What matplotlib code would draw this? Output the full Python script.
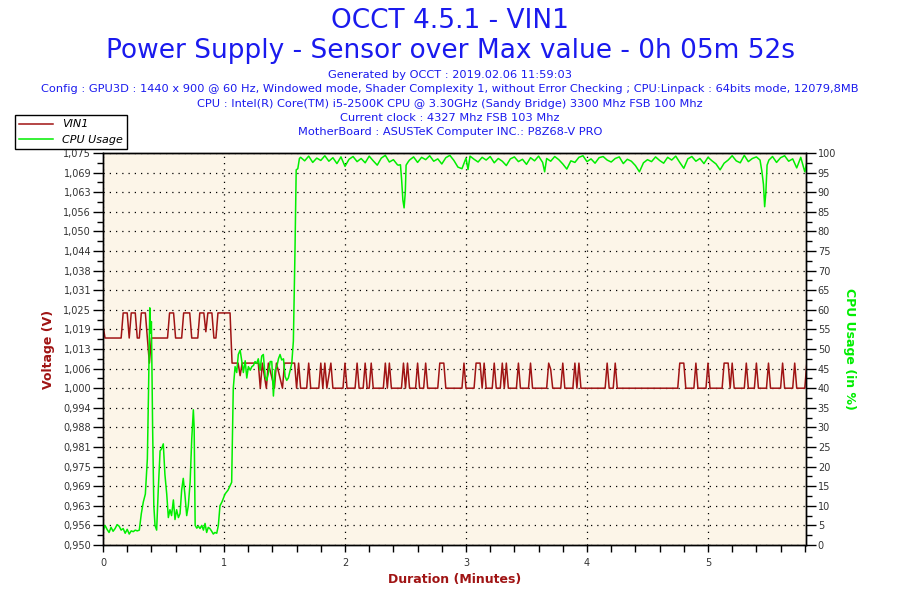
import matplotlib
matplotlib.use("Agg")
import matplotlib.pyplot as plt
import numpy as np
from matplotlib.ticker import MultipleLocator

# VIN1 voltage, breakpoints (time in seconds)
vin_t = [0, 1, 9, 10, 12, 13, 14, 16, 17, 18, 19, 21, 22, 23, 24, 32, 33, 35, 36,
         39, 40, 43, 44, 47, 48, 50, 51, 52, 54, 55, 56, 57, 63, 64, 67, 68, 69,
         77, 78, 79, 81, 82, 85, 86, 89, 90, 95, 96, 97, 98, 101, 102, 103, 107,
         108, 109, 110, 111, 113, 114, 119, 120, 121, 125, 126, 127, 129, 130, 131,
         132, 133, 134, 139, 140, 141, 142, 143, 148, 149, 150, 151, 152, 155, 156,
         157, 159, 160, 161, 166, 167, 169, 170, 178, 179, 180, 184, 185, 187, 188,
         189, 190, 193, 194, 195, 197, 198, 199, 200, 201, 205, 206, 207, 211, 212,
         213, 220, 221, 222, 223, 227, 228, 229, 233, 234, 235, 236, 237, 249, 250,
         251, 253, 254, 255, 285, 286, 288, 289, 293, 294, 295, 299, 300, 301, 307,
         308, 310, 311, 312, 313, 318, 319, 320, 323, 324, 325, 329, 330, 331, 336,
         337, 338, 342, 343, 344, 348, 349]
vin_v = [1.020, 1.016, 1.016, 1.024, 1.024, 1.016, 1.024, 1.024, 1.016, 1.016, 1.024,
         1.024, 1.016, 1.008, 1.016, 1.016, 1.024, 1.024, 1.016, 1.016, 1.024, 1.024,
         1.016, 1.016, 1.024, 1.024, 1.018, 1.024, 1.024, 1.016, 1.016, 1.024, 1.024,
         1.008, 1.008, 1.004, 1.008, 1.008, 1.000, 1.008, 1.000, 1.008, 1.000, 1.008,
         1.000, 1.008, 1.008, 1.000, 1.008, 1.000, 1.000, 1.008, 1.000, 1.000, 1.008,
         1.000, 1.008, 1.000, 1.008, 1.000, 1.000, 1.008, 1.000, 1.000, 1.008, 1.000,
         1.000, 1.008, 1.000, 1.000, 1.008, 1.000, 1.000, 1.008, 1.000, 1.008, 1.000,
         1.000, 1.008, 1.000, 1.008, 1.000, 1.000, 1.008, 1.000, 1.000, 1.008, 1.000,
         1.000, 1.008, 1.008, 1.000, 1.000, 1.008, 1.000, 1.000, 1.008, 1.008, 1.000,
         1.008, 1.000, 1.000, 1.008, 1.000, 1.000, 1.008, 1.000, 1.008, 1.000, 1.000,
         1.008, 1.000, 1.000, 1.008, 1.000, 1.000, 1.008, 1.006, 1.000, 1.000, 1.008,
         1.000, 1.000, 1.008, 1.000, 1.008, 1.000, 1.000, 1.008, 1.000, 1.000, 1.008,
         1.000, 1.000, 1.008, 1.008, 1.000, 1.000, 1.008, 1.000, 1.000, 1.008, 1.000,
         1.000, 1.008, 1.008, 1.000, 1.008, 1.000, 1.000, 1.008, 1.000, 1.000, 1.008,
         1.000, 1.000, 1.008, 1.000, 1.000, 1.008, 1.000, 1.000, 1.008, 1.000, 1.000,
         1.008]

# CPU usage (%), breakpoints (time in seconds)
cpu_t = [0, 1, 2, 3, 4, 5, 6, 7, 8, 9, 10, 11, 12, 13, 14, 15, 16, 17, 18, 19, 20,
         21, 22, 22.6, 23.2, 23.6, 24, 24.6, 25.2, 25.8, 26.6, 27.4, 28.3, 29, 29.9,
         30.7, 31.6, 32.4, 33.2, 34, 34.9, 35.7, 36.5, 37.4, 38.2, 39, 39.8, 40.6,
         41.5, 42.3, 43.2, 44, 44.8, 45.2, 45.7, 46.5, 47.3, 48.1, 49, 49.8, 50.6,
         51.4, 52.2, 53, 53.9, 54.7, 55.5, 56.4, 57.2, 58, 59, 60.5, 62, 63.8, 64.6,
         65.5, 66.3, 67.1, 68, 68.8, 69.6, 70.5, 71.3, 72.1, 73, 73.8, 74.6, 75.4,
         76.2, 77, 77.9, 78.7, 79.5, 80.4, 81.2, 82, 82.9, 83.7, 84.5, 85.3, 86.2,
         87, 87.8, 88.6, 89.5, 90.3, 91.1, 91.9, 92.8, 93.6, 94.4, 95.2, 95.8, 96.6,
         97.4,
         98, 100, 102, 104, 106, 108, 110, 112, 114, 116, 118, 120, 122, 124, 126,
         128, 130, 132, 134, 136, 138, 140, 142, 144, 146,
         146.5, 147.5, 148.1, 148.7, 149.3, 149.9, 150.3, 151.4,
         152, 154, 156, 158, 160, 162, 164, 166, 168, 170, 172, 174, 176, 178, 180,
         181,
         182, 184, 186, 188, 190, 192, 194, 196, 198, 200, 202, 204, 206, 208, 210,
         212, 214, 216, 218,
         219,
         220, 222, 224, 226, 228, 230,
         232, 234, 236, 238, 240, 242, 244, 246, 248, 250, 252, 254, 256, 258, 260,
         262, 264,
         266,
         268, 270, 272, 274, 276, 278, 280, 282, 284, 286,
         288,
         290, 292, 294, 296, 298, 300, 302, 304,
         306,
         308, 310, 312, 314, 316, 318, 320, 322, 324,
         325.8, 326.7, 327.5, 328.1, 328.7, 329.3, 330.2,
         332, 334, 336, 338, 340, 342, 344, 346, 348, 349]
cpu_v = [3.5, 5.0, 4.0, 3.2, 4.5, 3.5, 4.2, 5.2, 4.8, 3.8, 4.2, 3.0, 4.0, 2.8, 3.6,
         3.4, 3.8, 3.6, 3.8, 8.0, 11.0, 13.0, 22.0, 40.0, 60.5, 54.0, 57.0, 30.0,
         10.0, 5.0, 3.8, 14.0, 24.0, 24.5, 25.8, 18.0, 13.0, 7.0, 9.0, 7.5, 11.5,
         6.5, 9.0, 7.0, 8.0, 14.0, 17.0, 13.0, 7.5, 10.0, 16.0, 27.0, 34.5, 30.0,
         5.0, 4.3, 4.8, 4.2, 5.0, 3.8, 5.5, 3.2, 4.5, 4.2, 3.5, 2.8, 3.2, 3.0, 5.0,
         10.0, 11.0, 13.0, 14.0, 16.0, 40.0, 45.5, 44.0, 48.6, 49.7, 47.0, 44.0,
         47.0, 42.6, 45.5, 44.6, 45.5, 45.8, 46.8, 46.3, 47.5, 44.6, 48.2, 48.6,
         43.0, 42.0, 43.8, 46.8, 46.8, 38.0, 44.6, 45.5, 47.5, 48.6, 47.2, 47.5,
         43.0, 42.0, 42.6, 44.6, 46.3, 52.0, 75.0, 95.7, 96.0, 98.6,
         98.9, 98.0, 99.2, 97.6, 98.7, 98.1, 99.3, 97.9, 98.8, 97.3, 99.0, 96.6,
         98.4, 99.1, 97.8, 98.6, 97.5, 99.2, 98.0, 96.9, 98.7, 99.4, 97.7, 98.3,
         97.0,
         96.9, 97.0, 93.0, 88.0, 86.0, 90.0, 96.9, 97.8,
         98.2, 99.0, 97.6, 98.9, 98.3, 99.3, 97.9, 98.5, 97.2, 98.8, 99.4, 98.1,
         96.4, 96.0, 98.7,
         95.8,
         99.2, 98.4, 97.7, 98.9, 98.2, 99.1, 97.5, 98.6, 97.9, 96.8, 98.5, 99.0,
         97.8, 98.4, 97.1, 98.8, 98.0, 99.2, 97.6,
         95.2,
         98.6, 97.9, 99.1, 98.3, 97.2, 95.9,
         98.0, 97.6, 98.9, 99.3, 97.8, 98.5, 97.4, 98.8, 99.1, 98.2, 97.7, 98.6,
         99.0, 97.3, 98.4, 97.9, 96.8,
         95.2,
         97.5, 98.3, 97.8, 99.0, 98.1, 97.4, 98.9, 98.2, 99.2, 97.6,
         96.1,
         98.5, 99.1, 97.9, 98.6, 97.3, 98.9, 98.0, 97.2,
         95.7,
         97.4, 98.2, 99.3, 98.0, 97.5, 99.4, 97.8, 98.6, 99.0,
         98.2, 95.4, 92.0, 86.3, 90.0, 96.9, 98.2,
         99.1, 97.6, 98.8, 99.3, 97.9, 98.5, 96.2, 98.9, 95.2, 97.5]

volt_ticks = ['0,950', '0,956', '0,963', '0,969', '0,975', '0,981', '0,988', '0,994',
              '1,000', '1,006', '1,013', '1,019', '1,025', '1,031', '1,038', '1,044',
              '1,050', '1,056', '1,063', '1,069', '1,075']

header_lines = [
    "Generated by OCCT : 2019.02.06 11:59:03",
    "Config : GPU3D : 1440 x 900 @ 60 Hz, Windowed mode, Shader Complexity 1, without Error Checking ; CPU:Linpack : 64bits mode, 12079,8MB",
    "CPU : Intel(R) Core(TM) i5-2500K CPU @ 3.30GHz (Sandy Bridge) 3300 Mhz FSB 100 Mhz",
    "Current clock : 4327 Mhz FSB 103 Mhz",
    "MotherBoard : ASUSTeK Computer INC.: P8Z68-V PRO",
]

red = '#a01414'
green = '#00ee00'
blue = '#1a1aee'
tickc = '#333333'

fig = plt.figure(figsize=(9, 6), dpi=100)
ax = fig.add_axes([103 / 900, 55 / 600, 703 / 900, 392 / 600])
ax.set_facecolor('#fcf5e8')
ax2 = ax.twinx()

l1, = ax.plot(np.array(vin_t) / 60, vin_v, color=red, lw=1.1)
l2, = ax2.plot(np.array(cpu_t) / 60, cpu_v, color=green, lw=1.1)

ax.set_xlim(0, 5.81)
ax.set_ylim(0.950, 1.075)
ax2.set_ylim(0, 100)

vt = np.linspace(0.950, 1.075, len(volt_ticks))
ax.set_yticks(vt)
ax.set_yticklabels(volt_ticks)
ax.yaxis.set_minor_locator(MultipleLocator(0.003125))
ax.xaxis.set_major_locator(MultipleLocator(1))
ax.xaxis.set_minor_locator(MultipleLocator(0.2))
ax2.yaxis.set_major_locator(MultipleLocator(5))
ax2.yaxis.set_minor_locator(MultipleLocator(2.5))

for a in (ax, ax2):
    a.tick_params(which='major', length=7, width=1, labelsize=7, labelcolor=tickc,
                  direction='out', pad=1.5)
    a.tick_params(which='minor', length=4, width=1, direction='out')
    for s in a.spines.values():
        s.set_linewidth(1)
ax.tick_params(axis='x', which='major', length=5, pad=4)
ax.tick_params(axis='x', which='minor', length=5)

ax.grid(True, which='major', color='black', linestyle=(0, (1, 4)), linewidth=0.9)

ax.set_xlabel('Duration (Minutes)', color=red, fontweight='bold', fontsize=9, labelpad=4)
ax.set_ylabel('Voltage (V)', color=red, fontweight='bold', fontsize=9, labelpad=6)
ax2.set_ylabel('CPU Usage (in %)', color=green, fontweight='bold', fontsize=9,
               rotation=270, labelpad=14)

fig.text(0.5, 1 - 21 / 600, 'OCCT 4.5.1 - VIN1', ha='center', va='center', fontsize=19, color=blue)
fig.text(0.5, 1 - 51 / 600, 'Power Supply - Sensor over Max value - 0h 05m 52s',
         ha='center', va='center', fontsize=19, color=blue)
for i, line in enumerate(header_lines):
    fig.text(0.5, 1 - (75 + i * 14.3) / 600, line, ha='center', va='center',
             fontsize=8.2, color=blue)

leg = fig.legend([l1, l2], ['VIN1', 'CPU Usage'], loc='upper left',
                 bbox_to_anchor=(15 / 900, 1 - 115 / 600), borderaxespad=0,
                 frameon=True, fancybox=False, edgecolor='black', framealpha=1,
                 borderpad=0.4, handlelength=3.0, labelspacing=0.5,
                 prop={'style': 'italic', 'size': 8})
leg.get_frame().set_linewidth(1)

fig.savefig('out.png', dpi=100, facecolor='white')
